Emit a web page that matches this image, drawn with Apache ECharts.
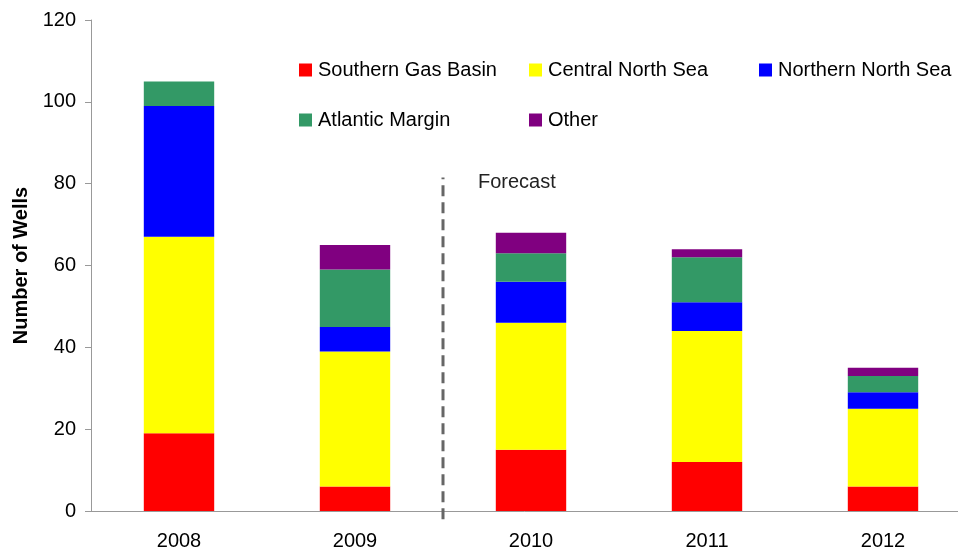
<!DOCTYPE html>
<html>
<head>
<meta charset="utf-8">
<script src="https://cdn.jsdelivr.net/npm/echarts@6/dist/echarts.min.js"></script>
<style>
  html, body { margin: 0; padding: 0; background: #fff; }
  #chart-wrapper { width: 958px; height: 552px; }
</style>
</head>
<body>
<div id="chart-wrapper"></div>
<script>
// data
const years = ["2008", "2009", "2010", "2011", "2012"];
const southernGasBasin = [19, 6, 15, 12, 6];
const centralNorthSea = [48, 33, 31, 32, 19];
const northernNorthSea = [32, 6, 10, 7, 4];
const atlanticMargin = [6, 14, 7, 11, 4];
const other = [0, 6, 5, 2, 2];
const forecastLine = [[1.5, -2], [1.5, 81.5]];

const FONT = "Liberation Sans, Arial, sans-serif";

const seriesDefs = [
  { name: "Southern Gas Basin", data: southernGasBasin, color: "#FF0000" },
  { name: "Central North Sea", data: centralNorthSea, color: "#FFFF00" },
  { name: "Northern North Sea", data: northernNorthSea, color: "#0000FF" },
  { name: "Atlantic Margin", data: atlanticMargin, color: "#339966" },
  { name: "Other", data: other, color: "#800080" },
];

// each legend item is placed on its own
const legendPos = [
  { left: 299, top: 60 },
  { left: 529, top: 60 },
  { left: 759, top: 60 },
  { left: 299, top: 110 },
  { left: 529, top: 110 },
];

const chart = echarts.init(document.getElementById("chart-wrapper"));

const option = {
  animation: false,
  backgroundColor: "#fff",
  grid: { left: 91, top: 20, width: 880, height: 491, outerBoundsMode: "none", containLabel: false },
  legend: seriesDefs.map((s, i) => ({
    data: [s.name],
    left: legendPos[i].left,
    top: legendPos[i].top,
    padding: 0,
    icon: "rect",
    itemWidth: 13,
    itemHeight: 13,
    itemGap: 0,
    textStyle: { fontFamily: FONT, fontSize: 20, color: "#000", padding: [0, 0, 0, 1] },
  })),
  xAxis: [
    {
      type: "category",
      data: years,
      axisLine: { lineStyle: { color: "#999" } },
      axisTick: { length: 9, lineStyle: { color: "#888" } },
      axisLabel: { fontFamily: FONT, fontSize: 20, color: "#000", margin: 20 },
    },
    {
      type: "value",
      min: -0.5,
      max: 4.5,
      show: false,
    },
  ],
  yAxis: {
    type: "value",
    min: 0,
    max: 120,
    interval: 20,
    name: "Number of Wells",
    nameLocation: "middle",
    nameGap: 60,
    nameTextStyle: { fontFamily: FONT, fontSize: 20, fontWeight: "bold", color: "#000" },
    axisLine: { show: true, onZero: false, lineStyle: { color: "#999" } },
    axisTick: { show: true, length: 6, lineStyle: { color: "#999" } },
    splitLine: { show: false },
    axisLabel: { fontFamily: FONT, fontSize: 20, color: "#000", margin: 15 },
  },
  series: seriesDefs
    .map((s) => ({
      name: s.name,
      type: "bar",
      stack: "wells",
      barWidth: "40%",
      data: s.data,
      itemStyle: { color: s.color },
    }))
    .concat([
      {
        name: "forecast",
        type: "line",
        xAxisIndex: 1,
        data: forecastLine,
        symbol: "none",
        silent: true,
        clip: false,
        lineStyle: { color: "#666", width: 3, type: [11, 6] },
        endLabel: {
          show: true,
          formatter: "Forecast",
          fontFamily: FONT,
          fontSize: 20,
          color: "#222",
          offset: [27, 5],
        },
      },
    ]),
};

chart.setOption(option);
</script>
</body>
</html>
